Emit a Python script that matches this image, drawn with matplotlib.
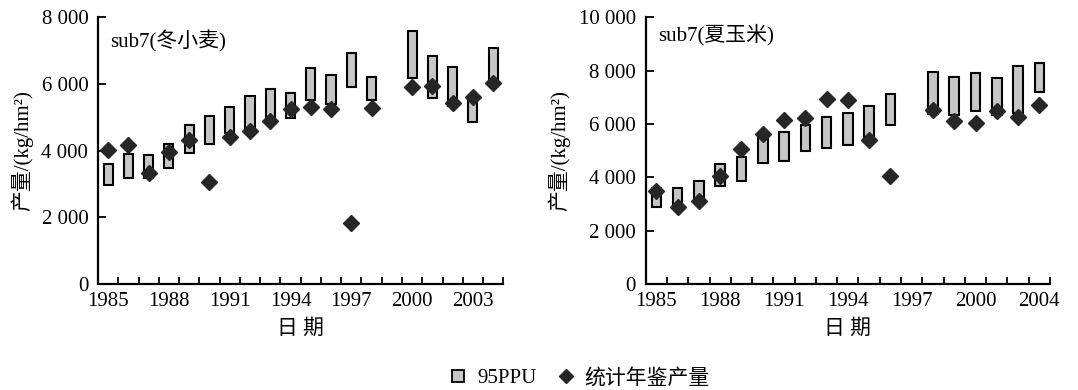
import numpy as np
import matplotlib
matplotlib.use("Agg")
import matplotlib.pyplot as plt
from matplotlib.lines import Line2D

plt.rcParams['font.family'] = ['Liberation Serif', 'Noto Sans CJK SC', 'DejaVu Sans']
plt.rcParams['font.size'] = 15

nan = np.nan

# ---- winter wheat (left) ----
wheat_low = [2970, 3190, 3190, 3470, 3940, 4200, 4520, 4670, 4920, 4990,
             5520, 5390, 5900, 5520, nan, 6190, 5590, 5340, 4850, 5990]
wheat_high = [3590, 3900, 3860, 4200, 4770, 5050, 5320, 5650, 5840, 5740,
              6470, 6260, 6940, 6200, nan, 7570, 6850, 6520, 5580, 7070]
wheat_obs = [4020, 4170, 3340, 3970, 4320, 3060, 4400, 4590, 4900, 5240,
             5320, 5260, 1840, 5270, nan, 5920, 5940, 5440, 5600, 6040]
wheat_ticklabels = ['1985', '1988', '1991', '1994', '1997', '2000', '2003']

# ---- summer maize (right) ----
maize_low = [2900, 2900, 3150, 3680, 3840, 4525, 4590, 4990, 5110, 5210,
             5340, 5960, nan, 6360, 6340, 6490, 6340, 6425, 7190]
maize_high = [3590, 3610, 3840, 4490, 4775, 5525, 5690, 5960, 6250, 6425,
              6675, 7110, nan, 7960, 7775, 7900, 7710, 8175, 8275]
maize_obs = [3500, 2900, 3090, 4050, 5060, 5610, 6150, 6210, 6940, 6900,
             5400, 4050, nan, 6525, 6125, 6025, 6490, 6240, 6710]
maize_ticklabels = ['1985', '1988', '1991', '1994', '1997', '2000', '2004']

box_color = '#c6c6c6'
dia_color = '#262626'


def fmt(v):
    return f"{int(v):,}".replace(',', ' ')


def draw(ax, low, high, obs, ticklabels, ymax, title, title_y):
    n = len(low)
    x = np.arange(n)
    low = np.array(low, dtype=float)
    high = np.array(high, dtype=float)
    ax.bar(x, high - low, bottom=low, width=0.45, color=box_color,
           edgecolor='black', linewidth=1.5, zorder=2)
    ax.plot(x, obs, 'D', color=dia_color, markersize=8.5, zorder=3,
            linestyle='none')
    ax.set_xlim(-0.5, n - 0.5)
    ax.set_ylim(0, ymax)
    yt = np.arange(0, ymax + 1, 2000)
    ax.set_yticks(yt)
    ax.set_yticklabels([fmt(v) for v in yt])
    ax.set_xticks(np.arange(0, n, 3))
    ax.set_xticklabels(ticklabels)
    ax.set_xticks(np.arange(0.5, n, 1.0), minor=True)
    ax.tick_params(axis='x', which='major', length=0, pad=6)
    ax.tick_params(axis='x', which='minor', direction='in', length=5, width=1.3)
    ax.tick_params(axis='y', which='major', direction='in', length=6, width=1.3, pad=7)
    for s in ['top', 'right']:
        ax.spines[s].set_visible(False)
    for s in ['left', 'bottom']:
        ax.spines[s].set_linewidth(1.6)
    ax.set_ylabel('产量/(kg/hm²)', labelpad=6)
    ax.set_xlabel('日 期', labelpad=6)
    ax.text(0.03, title_y, title, transform=ax.transAxes, ha='left', va='center',
            fontsize=15)


fig = plt.figure(figsize=(10.78, 3.90), dpi=100)
ax1 = fig.add_axes([0.0909, 0.272, 0.376, 0.684])
ax2 = fig.add_axes([0.599, 0.272, 0.375, 0.684])

draw(ax1, wheat_low, wheat_high, wheat_obs, wheat_ticklabels, 8000, 'sub7(冬小麦)', 0.91)
draw(ax2, maize_low, maize_high, maize_obs, maize_ticklabels, 10000, 'sub7(夏玉米)', 0.935)

handles = [
    Line2D([], [], marker='s', linestyle='none', markersize=8,
           markerfacecolor=box_color, markeredgecolor='black', markeredgewidth=1.3),
    Line2D([], [], marker='D', linestyle='none', markersize=7, color=dia_color),
]
fig.legend(handles, ['95PPU', '统计年鉴产量'], loc='center',
           bbox_to_anchor=(0.538, 0.03), ncol=2, frameon=False,
           handlelength=0.8, handletextpad=0.5, columnspacing=1.0, fontsize=15)

fig.savefig('out.png', dpi=100)
